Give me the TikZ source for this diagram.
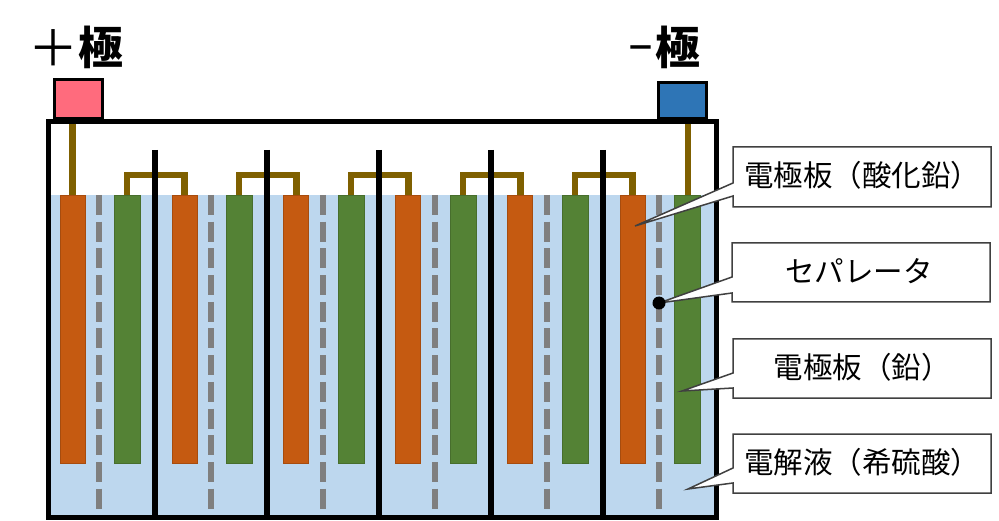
\documentclass[tikz,border=0pt]{standalone}
\usepackage{fontspec}
\setmainfont{Noto Sans CJK JP}
\definecolor{water}{HTML}{BDD7EE}
\definecolor{plateP}{HTML}{C55A11}
\definecolor{plateN}{HTML}{548235}
\definecolor{brownbus}{HTML}{7F6000}
\definecolor{sepgray}{HTML}{7F7F7F}
\definecolor{redterm}{HTML}{FF6B7D}
\definecolor{blueterm}{HTML}{2E75B6}
\definecolor{calloutline}{HTML}{404040}
\tikzset{
  x=1pt,y=-1pt,
  bus/.style={draw=brownbus,line width=6.4pt},
  divider/.style={draw=black,line width=6.5pt},
  sep/.style={draw=sepgray,line width=6.5pt,dash pattern=on 20pt off 6.7pt},
  plateplus/.style={draw=plateP!85!black,line width=.6pt,fill=plateP},
  plateminus/.style={draw=plateN!85!black,line width=.6pt,fill=plateN},
  terminal/.style={draw=black,line width=3pt,inner sep=0pt,anchor=north west},
  callout/.style={draw=calloutline,line width=1.5pt,fill=white,line join=miter},
  lab/.style={inner sep=0pt,font=\fontsize{29.5}{32}\selectfont},
  head/.style={inner sep=0pt,anchor=west,font=\fontsize{45}{48}\selectfont},
}
\begin{document}
\begin{tikzpicture}
\useasboundingbox (0,0) rectangle (999,521);
% electrolyte
\fill[water] (48,195) rectangle (716,515);
% separators
\foreach \sx in {99,211,323,435,547,659}
  \draw[sep] (\sx,195) -- (\sx,519);
% plates
\foreach \px in {60,172,283,395,507,620}
  \draw[plateplus] (\px,195) rectangle ++(25,268);
\foreach \nx in {114,226,338,450,562,674}
  \draw[plateminus] (\nx,195) rectangle ++(26,268);
% bus bars
\foreach \bx in {127,239,351,463,575}
  \draw[bus] (\bx,195) -- (\bx,175) -- ++(57.5,0) -- ++(0,20);
% dividers
\foreach \dx in {155,267,379,491,603}
  \draw[divider] (\dx,150) -- (\dx,517);
% terminals
\node[terminal,fill=redterm,minimum width=48pt,minimum height=39pt] (pos) at (53,78) {};
\node[terminal,fill=blueterm,minimum width=48pt,minimum height=36pt] (neg) at (657,81) {};
% case
\draw[line width=5pt,line join=miter] (48,122) rectangle (716,517);
\draw[bus] (72.5,124) -- (72.5,195);
\draw[bus] (688,124) -- (688,195);
% labels above terminals
\node[head] (poslabel) at (28,47) {{\fontsize{50}{50}\selectfont\raisebox{-2pt}{＋}}\textbf{極}};
\node[head] (neglabel) at (626,47) {{\fontsize{29}{29}\selectfont\bfseries\raisebox{6pt}{－}}\textbf{極}};
% callouts
\draw[callout] (733,147) -- (991,147) -- (991,207) -- (733,207) -- (733,196) -- (635,226) -- (733,183) -- cycle;
\node[lab] (c1) at (862,175) {電極板（酸化鉛）};
\draw[callout] (732,243) -- (990,243) -- (990,302) -- (732,302) -- (732,293) -- (659,303) -- (732,277) -- cycle;
\node[lab] (c2) at (859,271) {セパレータ};
\draw[callout] (733,339) -- (991,339) -- (991,398) -- (733,398) -- (733,388) -- (682,391) -- (733,373) -- cycle;
\node[lab] (c3) at (862,367) {電極板（鉛）};
\draw[callout] (733,434) -- (991,434) -- (991,493) -- (733,493) -- (733,483) -- (688,489) -- (733,468) -- cycle;
\node[lab] (c4) at (862,462) {電解液（希硫酸）};
\fill[black] (659,303) circle (6.5);
\end{tikzpicture}
\end{document}
